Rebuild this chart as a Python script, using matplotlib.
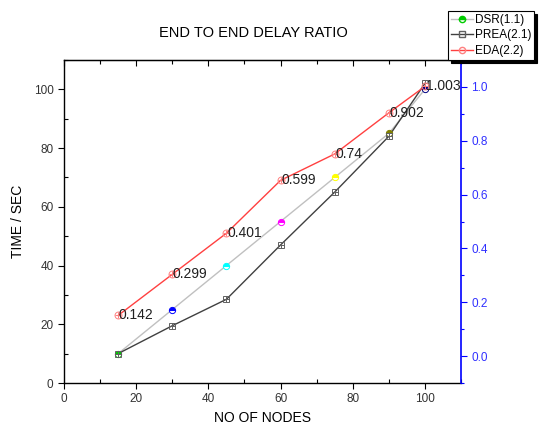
import matplotlib
matplotlib.use("Agg")
import matplotlib.pyplot as plt
from matplotlib.lines import Line2D
from matplotlib.ticker import MultipleLocator

plt.rcParams['font.family'] = ['Liberation Sans', 'DejaVu Sans']

nodes = [15, 30, 45, 60, 75, 90, 100]
dsr = [10, 25, 40, 55, 70, 85, 100]
prea = [10, 19.5, 28.5, 47, 65, 84, 102]
eda = [23, 37, 51, 69, 78, 92, 101]
eda_labels = ["0.142", "0.299", "0.401", "0.599", "0.74", "0.902", "1.003"]
dsr_colors = ["#00cc00", "#0000ff", "#00ffff", "#ff00ff", "#ffff00", "#808000", "#000080"]

fig = plt.figure(figsize=(5.39, 4.30), dpi=100)
ax = fig.add_axes([64/539, 47/430, (461-64)/539, (383-60)/430])

MS = 4.5
# DSR
ax.plot(nodes, dsr, color="#c0c0c0", lw=1, zorder=2)
for x, y, c in zip(nodes, dsr, dsr_colors):
    ax.plot([x], [y], 'o', ms=MS, fillstyle='top', color=c, markerfacecoloralt='white',
            markeredgecolor=c, mew=0.7, zorder=4)
# PREA
ax.plot(nodes, prea, color="#404040", lw=1, zorder=3)
ax.plot(nodes, prea, 's', ms=MS-0.3, mfc='none', mec="#606060", mew=0.7, zorder=5)
ax.plot(nodes, prea, '+', ms=MS-0.3, mec="#606060", mew=0.7, zorder=5)
# EDA
ax.plot(nodes, eda, color="#ff4040", lw=1, zorder=3)
ax.plot(nodes, eda, 'o', ms=MS+0.5, mfc='none', mec="#ff8080", mew=0.7, zorder=5)
ax.plot(nodes, eda, '+', ms=MS+0.5, mec="#ff8080", mew=0.7, zorder=5)
for x, y, t in zip(nodes, eda, eda_labels):
    ax.annotate(t, (x, y), xytext=(0.5, 0), textcoords='offset points',
                va='center', ha='left', fontsize=10, color='#202020', zorder=6)

ax.set_xlim(0, 110)
ax.set_ylim(0, 110)
ax.xaxis.set_major_locator(MultipleLocator(20))
ax.xaxis.set_minor_locator(MultipleLocator(10))
ax.yaxis.set_major_locator(MultipleLocator(20))
ax.yaxis.set_minor_locator(MultipleLocator(10))
ax.tick_params(which='major', direction='out', length=4, width=0.8, labelsize=8.5, colors='black', labelcolor='#333333')
ax.tick_params(which='minor', direction='in', length=3, width=0.8)
ax.spines['right'].set_visible(False)
for s in ['left', 'bottom', 'top']:
    ax.spines[s].set_linewidth(1)

top = ax.secondary_xaxis('top')
top.xaxis.set_major_locator(MultipleLocator(20))
top.xaxis.set_minor_locator(MultipleLocator(10))
top.tick_params(which='major', direction='in', length=4, width=0.8, labeltop=False)
top.tick_params(which='minor', direction='in', length=3, width=0.8)

ax2 = ax.twinx()
ax2.set_ylim(-0.1, 1.1)
ax2.yaxis.set_major_locator(MultipleLocator(0.2))
ax2.yaxis.set_minor_locator(MultipleLocator(0.1))
ax2.yaxis.set_major_formatter(matplotlib.ticker.FormatStrFormatter('%.1f'))
ax2.tick_params(which='major', direction='out', length=4, width=0.8, colors='#0000ff', labelsize=8.5, labelcolor='#3030ff')
ax2.tick_params(which='minor', direction='out', length=2.5, width=0.8, colors='#0000ff')
for s in ['left', 'bottom', 'top']:
    ax2.spines[s].set_visible(False)
ax2.spines['right'].set_color('#0000ff')
ax2.spines['right'].set_linewidth(1.2)

ax.set_xlabel("NO OF NODES", fontsize=10, labelpad=4)
ax.set_ylabel("TIME / SEC", fontsize=10, labelpad=6)
fig.text(253/539, 1 - 33/430, "END TO END DELAY RATIO", ha='center', va='center', fontsize=10.5)

handles = [
    Line2D([], [], color="#c0c0c0", lw=1, marker='o', ms=4.5, fillstyle='top',
           markerfacecolor="#00cc00", markerfacecoloralt='white', markeredgecolor="#00cc00"),
    Line2D([], [], color="#404040", lw=1, marker='s', ms=4, mfc='none', mec="#606060"),
    Line2D([], [], color="#ff4040", lw=1, marker='o', ms=4.5, mfc='none', mec="#ff8080"),
]
labels = ["DSR(1.1)", "PREA(2.1)", "EDA(2.2)"]
leg = fig.legend(handles, labels, loc='upper left', bbox_to_anchor=(448/539, 1 - 11/430),
                 fontsize=8.5, frameon=True, fancybox=False, edgecolor='black',
                 shadow={'color': 'black', 'alpha': 1}, handlelength=1.9, handletextpad=0.1,
                 borderpad=0.25, labelspacing=0.3, borderaxespad=0)
leg.get_frame().set_linewidth(0.8)

fig.savefig("out.png", dpi=100)
